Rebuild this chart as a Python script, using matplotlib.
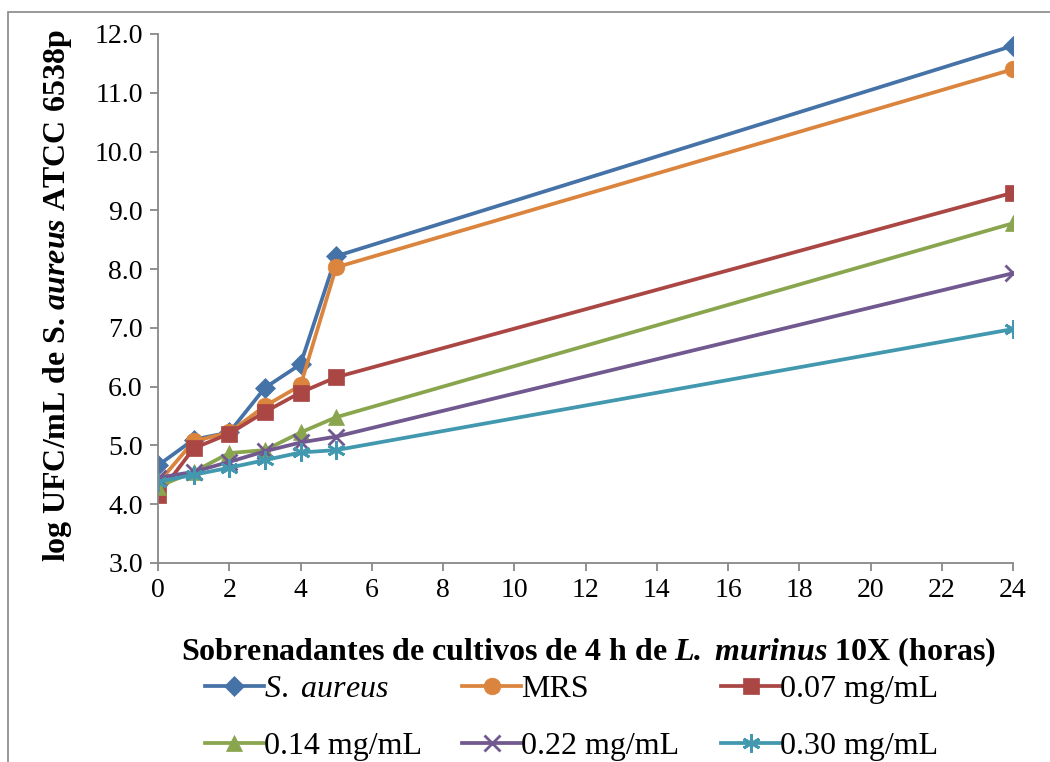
import matplotlib.pyplot as plt
from matplotlib.patches import Rectangle

# datos
horas = [0, 1, 2, 3, 4, 5, 24]
s_aureus = [4.66, 5.10, 5.22, 5.98, 6.38, 8.22, 11.80]
mrs = [4.36, 5.07, 5.22, 5.67, 6.02, 8.03, 11.40]
c007 = [4.15, 4.95, 5.20, 5.57, 5.90, 6.16, 9.30]
c014 = [4.30, 4.55, 4.87, 4.92, 5.22, 5.48, 8.78]
c022 = [4.45, 4.55, 4.72, 4.90, 5.05, 5.15, 7.93]
c030 = [4.38, 4.50, 4.62, 4.75, 4.88, 4.92, 6.98]

series = [s_aureus, mrs, c007, c014, c022, c030]
etiquetas = ['$\\mathit{S.}$ $\\mathit{aureus}$', 'MRS', '0.07 mg/mL', '0.14 mg/mL', '0.22 mg/mL', '0.30 mg/mL']
colores = ['#4572A7', '#DB843D', '#AA4643', '#89A54E', '#71588F', '#4198AF']
marcadores = ['D', 'o', 's', '^', 'x', (6, 2, 0)]
tamanos = [10, 12, 12, 12, 11, 13]

plt.rcParams['font.family'] = ['Liberation Serif', 'DejaVu Serif']
plt.rcParams['mathtext.fontset'] = 'custom'
plt.rcParams['mathtext.it'] = 'Liberation Serif:italic'
plt.rcParams['mathtext.rm'] = 'Liberation Serif'
plt.rcParams['mathtext.bf'] = 'Liberation Serif:bold'
plt.rcParams['mathtext.bfit'] = 'Liberation Serif:italic:bold'

fig = plt.figure(figsize=(10.5, 7.62), dpi=100)
ax = fig.add_axes([0.1505, 0.2612, 0.8143, 0.6942])

lineas = []
for i in range(len(series)):
    ln, = ax.plot(horas, series[i], color=colores[i], marker=marcadores[i], markersize=tamanos[i],
                  linewidth=2.7, markeredgewidth=2 if i >= 4 else 0.5,
                  markeredgecolor=colores[i], label=etiquetas[i])
    lineas.append(ln)

ax.set_xlim(0, 24)
ax.set_ylim(3.0, 12.0)
ax.set_xticks(range(0, 25, 2))
ax.set_yticks([3, 4, 5, 6, 7, 8, 9, 10, 11, 12])
ax.set_yticklabels(['%.1f' % v for v in ax.get_yticks()])
ax.tick_params(labelsize=20, color='#888888', length=6, width=1.3, direction='out', pad=5)
ax.spines['top'].set_visible(False)
ax.spines['right'].set_visible(False)
ax.spines['left'].set_color('#888888')
ax.spines['bottom'].set_color('#888888')
ax.spines['left'].set_linewidth(1.3)
ax.spines['bottom'].set_linewidth(1.3)

ax.set_ylabel('log UFC/mL de S. $\\mathbfit{aureus}$ ATCC 6538p', fontsize=23, fontweight='bold')
ax.yaxis.set_label_coords(-0.098, 0.505)
ax.set_xlabel('Sobrenadantes de cultivos de 4 h de $\\mathbfit{L.}$ $\\mathbfit{murinus}$ 10X (horas)',
              fontsize=23, fontweight='bold', va='top')
ax.xaxis.set_label_coords(0.503, -0.137)

# leyenda en tres columnas fijas como en Excel
col_x = [0.195, 0.44, 0.687]
for c in range(3):
    leg = fig.legend([lineas[c], lineas[c + 3]], [etiquetas[c], etiquetas[c + 3]],
                     loc='upper left', bbox_to_anchor=(col_x[c], 0.114), frameon=False,
                     fontsize=23, handlelength=1.85, handletextpad=0.0,
                     labelspacing=0.85, borderaxespad=0, borderpad=0)

fig.patches.append(Rectangle((0.008, -0.05), 1.05, 1.034, transform=fig.transFigure,
                             fill=False, edgecolor='#888888', linewidth=1.2))

fig.savefig('out.png', dpi=100)
